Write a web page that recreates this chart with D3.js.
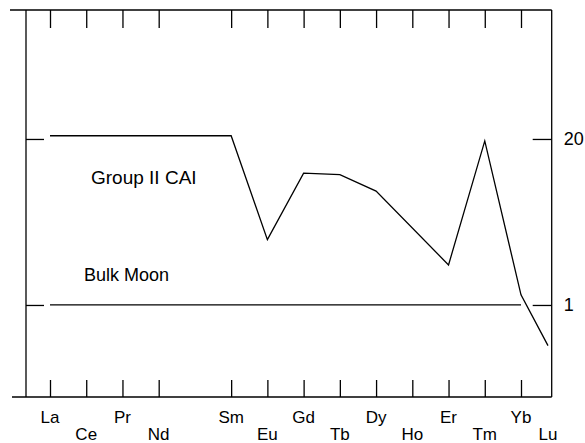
<!DOCTYPE html>
<html>
<head>
<meta charset="utf-8">
<script src="https://cdn.jsdelivr.net/npm/d3@7"></script>
<style>
  html, body { margin: 0; padding: 0; background: #fff; }
  svg { display: block; }
  text { font-family: "Liberation Sans", Arial, Helvetica, sans-serif; fill: #000; }
</style>
</head>
<body>
<svg id="chart" width="585" height="443"></svg>
<script>
// ---- data ----
const elements = ["La", "Ce", "Pr", "Nd", "Sm", "Eu", "Gd", "Tb", "Dy", "Ho", "Er", "Tm", "Yb", "Lu"];
const atomicNumbers = [57, 58, 59, 60, 62, 63, 64, 65, 66, 67, 68, 69, 70, 71];
const groupIICAI = [21.2, 21.2, 21.2, 21.2, 21.2, 3.25, 10.8, 10.5, 7.8, null, 2.06, 19.3, 1.2, 0.48];
const bulkMoon = [1, 1, 1, 1, 1, 1, 1, 1, 1, 1, 1, 1, 1, 1];
const yTickValues = [1, 20];
const yTickLabels = ["1", "20"];
const seriesLabels = ["Group II CAI", "Bulk Moon"];

// ---- layout ----
const frame = { left: 26, right: 551.7, top: 10, bottom: 397 };
const svg = d3.select("#chart");

const x = d3.scaleLinear().domain([57, 70, 71]).range([50, 521, 548]);
const y = d3.scaleLog().domain([0.19, 205]).range([frame.bottom, frame.top]);

const stroke = "#000";
const g = svg.append("g");

// frame lines
g.append("line").attr("x1", 10).attr("x2", frame.right).attr("y1", frame.top).attr("y2", frame.top)
  .attr("stroke", stroke).attr("stroke-width", 1.3);
g.append("line").attr("x1", 12).attr("x2", frame.right).attr("y1", frame.bottom).attr("y2", frame.bottom)
  .attr("stroke", stroke).attr("stroke-width", 1.3);
g.append("line").attr("x1", frame.left).attr("x2", frame.left).attr("y1", frame.top).attr("y2", frame.bottom)
  .attr("stroke", stroke).attr("stroke-width", 1.3);
g.append("line").attr("x1", frame.right).attr("x2", frame.right).attr("y1", frame.top).attr("y2", frame.bottom)
  .attr("stroke", stroke).attr("stroke-width", 1.3);

// x axes (top & bottom) via d3 axes
const topAxis = d3.axisBottom(x).tickValues(atomicNumbers.slice(0, -1)).tickSize(18).tickFormat("");
const gt = svg.append("g").attr("transform", `translate(0,${frame.top})`).call(topAxis);
gt.select(".domain").remove();
gt.selectAll(".tick line").attr("stroke", stroke).attr("stroke-width", 1.3);

const bottomAxis = d3.axisTop(x).tickValues(atomicNumbers.slice(0, -1)).tickSize(17).tickFormat("");
const gb = svg.append("g").attr("transform", `translate(0,${frame.bottom})`).call(bottomAxis);
gb.select(".domain").remove();
gb.selectAll(".tick line").attr("stroke", stroke).attr("stroke-width", 1.3);

// element labels, staggered in two rows
svg.append("g").selectAll("text").data(elements).join("text")
  .attr("x", (d, i) => x(atomicNumbers[i]))
  .attr("y", (d, i) => i % 2 === 0 ? 423 : 440)
  .attr("text-anchor", "middle")
  .attr("font-size", 17)
  .text(d => d);

// y axes (left ticks no labels, right ticks with labels)
const leftAxis = d3.axisRight(y).tickValues(yTickValues).tickSize(18).tickFormat("");
const gl = svg.append("g").attr("transform", `translate(${frame.left},0)`).call(leftAxis);
gl.select(".domain").remove();
gl.selectAll(".tick line").attr("stroke", stroke).attr("stroke-width", 1.3);

const rightAxis = d3.axisLeft(y).tickValues(yTickValues).tickSize(19).tickFormat("");
const gr = svg.append("g").attr("transform", `translate(${frame.right},0)`).call(rightAxis);
gr.select(".domain").remove();
gr.selectAll(".tick line").attr("stroke", stroke).attr("stroke-width", 1.3);

svg.append("g").selectAll("text").data(yTickValues).join("text")
  .attr("x", frame.right + 12)
  .attr("y", d => y(d) + 6)
  .attr("font-size", 18)
  .text((d, i) => yTickLabels[i]);

// series lines
const line = d3.line().x(d => x(d[0])).y(d => y(d[1]));
const caiPts = atomicNumbers.map((n, i) => [n, groupIICAI[i]]).filter(d => d[1] != null);
svg.append("path").datum(caiPts).attr("d", line)
  .attr("fill", "none").attr("stroke", stroke).attr("stroke-width", 1.3).attr("stroke-linejoin", "miter");

const moonPts = atomicNumbers.slice(0, -1).map((n, i) => [n, bulkMoon[i]]);
svg.append("path").datum(moonPts).attr("d", line)
  .attr("fill", "none").attr("stroke", stroke).attr("stroke-width", 1.3);

// series annotations
svg.append("text").attr("x", 91).attr("y", 184).attr("font-size", 19).text(seriesLabels[0]);
svg.append("text").attr("x", 84).attr("y", 281).attr("font-size", 18).text(seriesLabels[1]);
</script>
</body>
</html>
